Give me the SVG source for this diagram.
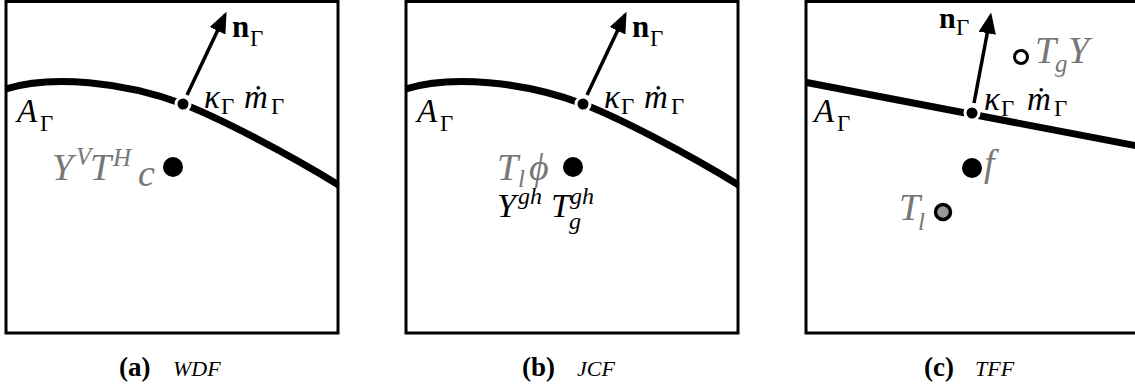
<svg xmlns="http://www.w3.org/2000/svg" width="1135" height="388" viewBox="0 0 1135 388">
<style>
.box{fill:#fff;stroke:#000;stroke-width:3}
.iface{fill:none;stroke:#000;stroke-width:7}
.vec{fill:none;stroke:#000;stroke-width:3.5}
.t{font-family:"Liberation Serif",serif;font-size:33px;fill:#000}
.it{font-style:italic}
.b{font-weight:bold;font-size:31px}
.s{font-size:23px;font-weight:normal;font-style:normal}
.g{fill:#777;font-size:38px}
.gs{font-size:25px}
.bk{font-size:34px}
.bs{font-size:24px}
.cap{font-family:"Liberation Serif",serif;font-size:22px;font-weight:normal;font-style:italic;fill:#000}
.capb{font-family:"Liberation Serif",serif;font-size:27px;font-weight:bold;fill:#000}
</style>
<defs>
<marker id="ah" markerWidth="6" markerHeight="5" refX="5" refY="2.5" orient="auto" markerUnits="strokeWidth">
<path d="M0,0 L6,2.5 L0,5 Z" fill="#000"/>
</marker>
<clipPath id="ca"><rect x="6" y="1.5" width="332" height="331.5"/></clipPath>
<clipPath id="cb"><rect x="406" y="1.5" width="332" height="331.5"/></clipPath>
<clipPath id="cc"><rect x="806" y="1.5" width="332" height="331.5"/></clipPath>
</defs>

<g id="panel-a">
<rect class="box" x="6" y="1.5" width="332" height="331.5"/>
<path class="iface" clip-path="url(#ca)" d="M4,89.5 C50,74 125,82 183,104 C222,119 290,155 342,187"/>
<circle cx="183" cy="104" r="8.5" fill="#fff"/>
<circle cx="183" cy="104" r="5.5" fill="#000"/>
<circle cx="173" cy="167" r="10" fill="#000"/>
<text class="t b" x="232" y="37">n<tspan class="s" x="250" y="46">Γ</tspan></text>
<text class="t it" x="204" y="108">κ<tspan class="s" x="221" y="114">Γ</tspan><tspan x="244" y="108">ṁ</tspan><tspan class="s" x="271" y="114">Γ</tspan></text>
<text class="t it" x="17" y="122">A<tspan class="s" x="40" y="131">Γ</tspan></text>
<text class="t it g" x="52" y="180">Y<tspan class="gs" x="76" y="165">V</tspan><tspan x="90" y="180">T</tspan><tspan class="gs" x="113" y="166">H</tspan><tspan x="138" y="186">c</tspan></text>
<text class="capb" x="119" y="376">(a)<tspan class="cap" x="173">WDF</tspan></text>
</g>

<g id="panel-b">
<rect class="box" x="406" y="1.5" width="332" height="331.5"/>
<path class="iface" clip-path="url(#cb)" d="M404,89.5 C450,74 525,82 583,104 C622,119 690,155 742,187"/>
<circle cx="583" cy="104" r="8.5" fill="#fff"/>
<circle cx="583" cy="104" r="5.5" fill="#000"/>
<circle cx="573" cy="167" r="10" fill="#000"/>
<text class="t b" x="632" y="37">n<tspan class="s" x="650" y="46">Γ</tspan></text>
<text class="t it" x="604" y="108">κ<tspan class="s" x="621" y="114">Γ</tspan><tspan x="644" y="108">ṁ</tspan><tspan class="s" x="671" y="114">Γ</tspan></text>
<text class="t it" x="417" y="122">A<tspan class="s" x="440" y="131">Γ</tspan></text>
<text class="t it g" x="497" y="180">T<tspan class="gs" x="518" y="187">l</tspan><tspan x="529" y="180">ϕ</tspan></text>
<text class="t it bk" x="497" y="217">Y<tspan class="bs" x="518" y="204">gh</tspan><tspan x="551" y="217">T</tspan><tspan class="bs" x="570" y="204">gh</tspan><tspan class="bs" x="569" y="229">g</tspan></text>
<text class="capb" x="522" y="376">(b)<tspan class="cap" x="577">JCF</tspan></text>
</g>

<g id="panel-c">
<rect class="box" x="806" y="1.5" width="332" height="331.5"/>
<path class="iface" clip-path="url(#cc)" d="M804,82 L1140,146.5"/>
<circle cx="972" cy="113" r="8.5" fill="#fff"/>
<circle cx="972" cy="113" r="5.5" fill="#000"/>
<circle cx="972" cy="168" r="10" fill="#000"/>
<circle cx="1021" cy="57" r="6.5" fill="#fff" stroke="#000" stroke-width="3"/>
<circle cx="943" cy="212" r="7.5" fill="#999" stroke="#000" stroke-width="3.5"/>
<text class="t b" x="939" y="28" style="font-size:30px">n<tspan class="s" x="956" y="35">Γ</tspan></text>
<text class="t it" x="984" y="110">κ<tspan class="s" x="1001" y="116">Γ</tspan><tspan x="1027" y="110">ṁ</tspan><tspan class="s" x="1054" y="116">Γ</tspan></text>
<text class="t it" x="814" y="122">A<tspan class="s" x="837" y="131">Γ</tspan></text>
<text class="t it g" x="1035" y="63">T<tspan class="gs" x="1055" y="72">g</tspan><tspan x="1068" y="63">Y</tspan></text>
<text class="t it g" x="984" y="176">f</text>
<text class="t it g" x="899" y="220">T<tspan class="gs" x="918" y="230">l</tspan></text>
<text class="capb" x="924" y="376">(c)<tspan class="cap" x="975">TFF</tspan></text>
</g>

<g id="connectors">
<line class="vec" x1="187" y1="95" x2="225" y2="15" marker-end="url(#ah)"/>
<line class="vec" x1="587" y1="95" x2="625" y2="15" marker-end="url(#ah)"/>
<line class="vec" x1="974" y1="103" x2="990.5" y2="16" marker-end="url(#ah)"/>
</g>
</svg>
